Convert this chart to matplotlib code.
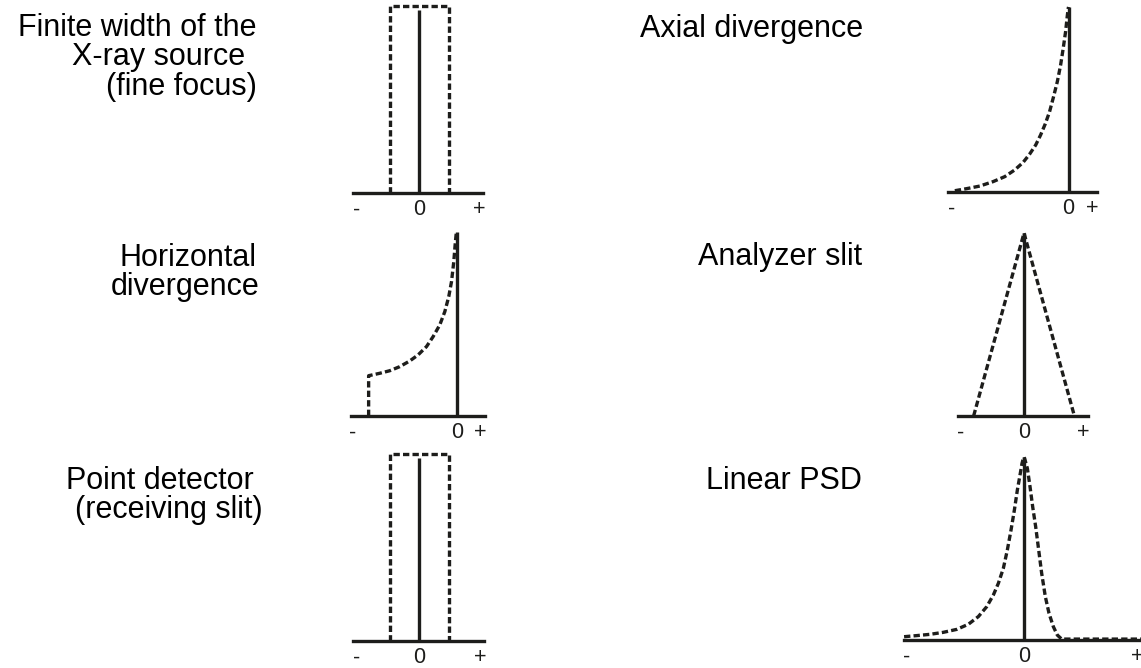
import numpy as np
import matplotlib.pyplot as plt

plt.rcParams['font.family'] = ['Liberation Sans', 'DejaVu Sans']

INK = '#1d1d1b'
W, H = 1141, 668

# profile of each instrumental contribution; x in units of the profile width,
# y relative to the peak height (1 = top of the solid reference line)
source_x = [-1, -1, 1, 1]
source_y = [0, 1.01, 1.01, 0]

hdiv_x = [-1.0, -1.0, -0.875, -0.761, -0.648, -0.534, -0.439, -0.344, -0.269,
          -0.193, -0.136, -0.091, -0.060, -0.034, -0.019, -0.008, 0]
hdiv_y = [0, 0.219, 0.232, 0.246, 0.268, 0.299, 0.332, 0.377, 0.431,
          0.495, 0.567, 0.649, 0.730, 0.839, 0.929, 0.985, 1.0]

detector_x = [-1, -1, 1, 1]
detector_y = [0, 1.01, 1.01, 0]

axial_x = [-1.0, -0.897, -0.781, -0.664, -0.561, -0.474, -0.401, -0.342, -0.289, -0.246,
           -0.205, -0.167, -0.132, -0.099, -0.070, -0.047, -0.026, -0.012, -0.003, 0]
axial_y = [0.007, 0.018, 0.032, 0.056, 0.083, 0.119, 0.159, 0.205, 0.254, 0.308,
           0.368, 0.434, 0.515, 0.596, 0.686, 0.777, 0.867, 0.948, 0.993, 1.0]

analyzer_x = [-1, 0, 1]
analyzer_y = [0, 1, 0]

psd_x = [-3.158, -2.825, -2.474, -2.123, -1.772, -1.465, -1.202, -0.982, -0.807, -0.675,
         -0.544, -0.439, -0.342, -0.254, -0.175, -0.105, -0.053, -0.018, 0,
         0.026, 0.088, 0.158, 0.228, 0.307, 0.386, 0.465, 0.561, 0.658, 0.772,
         0.877, 0.991, 3.08]
psd_y = [0.018, 0.024, 0.031, 0.042, 0.058, 0.086, 0.128, 0.182, 0.246, 0.310,
         0.392, 0.492, 0.601, 0.710, 0.820, 0.902, 0.965, 0.993, 1.0,
         0.984, 0.938, 0.838, 0.728, 0.619, 0.492, 0.364, 0.237, 0.146, 0.073,
         0.027, 0.005, 0.005]

tick_labels = ['-', '0', '+']

# panel layout in pixels: (left, right, baseline, top), x limits, tick positions
panels = [
    dict(box=(353, 483, 193, 8), xlim=(-2.24, 2.17), ticks=(-2.13, 0, 2.03),
         x=source_x, y=source_y, solid=0.99),
    dict(box=(351, 485, 416, 232), xlim=(-1.2, 0.32), ticks=(-1.18, 0, 0.27),
         x=hdiv_x, y=hdiv_y, solid=1.0),
    dict(box=(353, 484, 641, 456), xlim=(-2.24, 2.2), ticks=(-2.13, 0, 2.07),
         x=detector_x, y=detector_y, solid=0.99),
    dict(box=(948, 1097, 192, 7), xlim=(-1.06, 0.25), ticks=(-1.03, 0, 0.21),
         x=axial_x, y=axial_y, solid=1.0),
    dict(box=(958, 1088, 416, 233), xlim=(-1.31, 1.27), ticks=(-1.25, 0, 1.17),
         x=analyzer_x, y=analyzer_y, solid=1.0),
    dict(box=(904, 1141, 640, 457), xlim=(-3.16, 3.08), ticks=(-3.08, 0, 2.97),
         x=psd_x, y=psd_y, solid=1.0),
]

# label lines: (text, right edge px, baseline px)
labels = [
    ('Finite width of the', 257, 36),
    ('X-ray source', 245, 65),
    ('(fine focus)', 257, 95),
    ('Horizontal', 257, 266),
    ('divergence', 260, 295),
    ('Point detector', 254, 489),
    ('(receiving slit)', 263, 518),
    ('Axial divergence', 863, 37),
    ('Analyzer slit', 862, 265),
    ('Linear PSD', 862, 489),
]

fig = plt.figure(figsize=(W / 100, H / 100), dpi=100)

for p in panels:
    left, right, base, top = p['box']
    ax = fig.add_axes([left / W, 1 - base / H, (right - left) / W, (base - top) / H])
    ax.set_xlim(*p['xlim'])
    ax.set_ylim(0, 1)
    ax.patch.set_alpha(0)
    for side in ('left', 'right', 'top'):
        ax.spines[side].set_visible(False)
    ax.spines['bottom'].set_linewidth(2.4)
    ax.spines['bottom'].set_color(INK)
    ax.set_yticks([])
    ax.set_xticks(p['ticks'], labels=tick_labels)
    ax.tick_params(axis='x', length=0, pad=4.5, labelsize=15.5, labelcolor=INK)

    ax.plot([0, 0], [0, p['solid']], color=INK, lw=2.4, clip_on=False,
            solid_capstyle='butt')
    ax.plot(p['x'], p['y'], color=INK, lw=2.4, dashes=(1.9, 0.95), clip_on=False,
            dash_capstyle='butt', solid_joinstyle='round')

for txt, xr, yb in labels:
    fig.text(xr / W, 1 - yb / H, txt, ha='right', va='baseline',
             fontsize=22, color='black')

fig.savefig('out.png', dpi=100)
